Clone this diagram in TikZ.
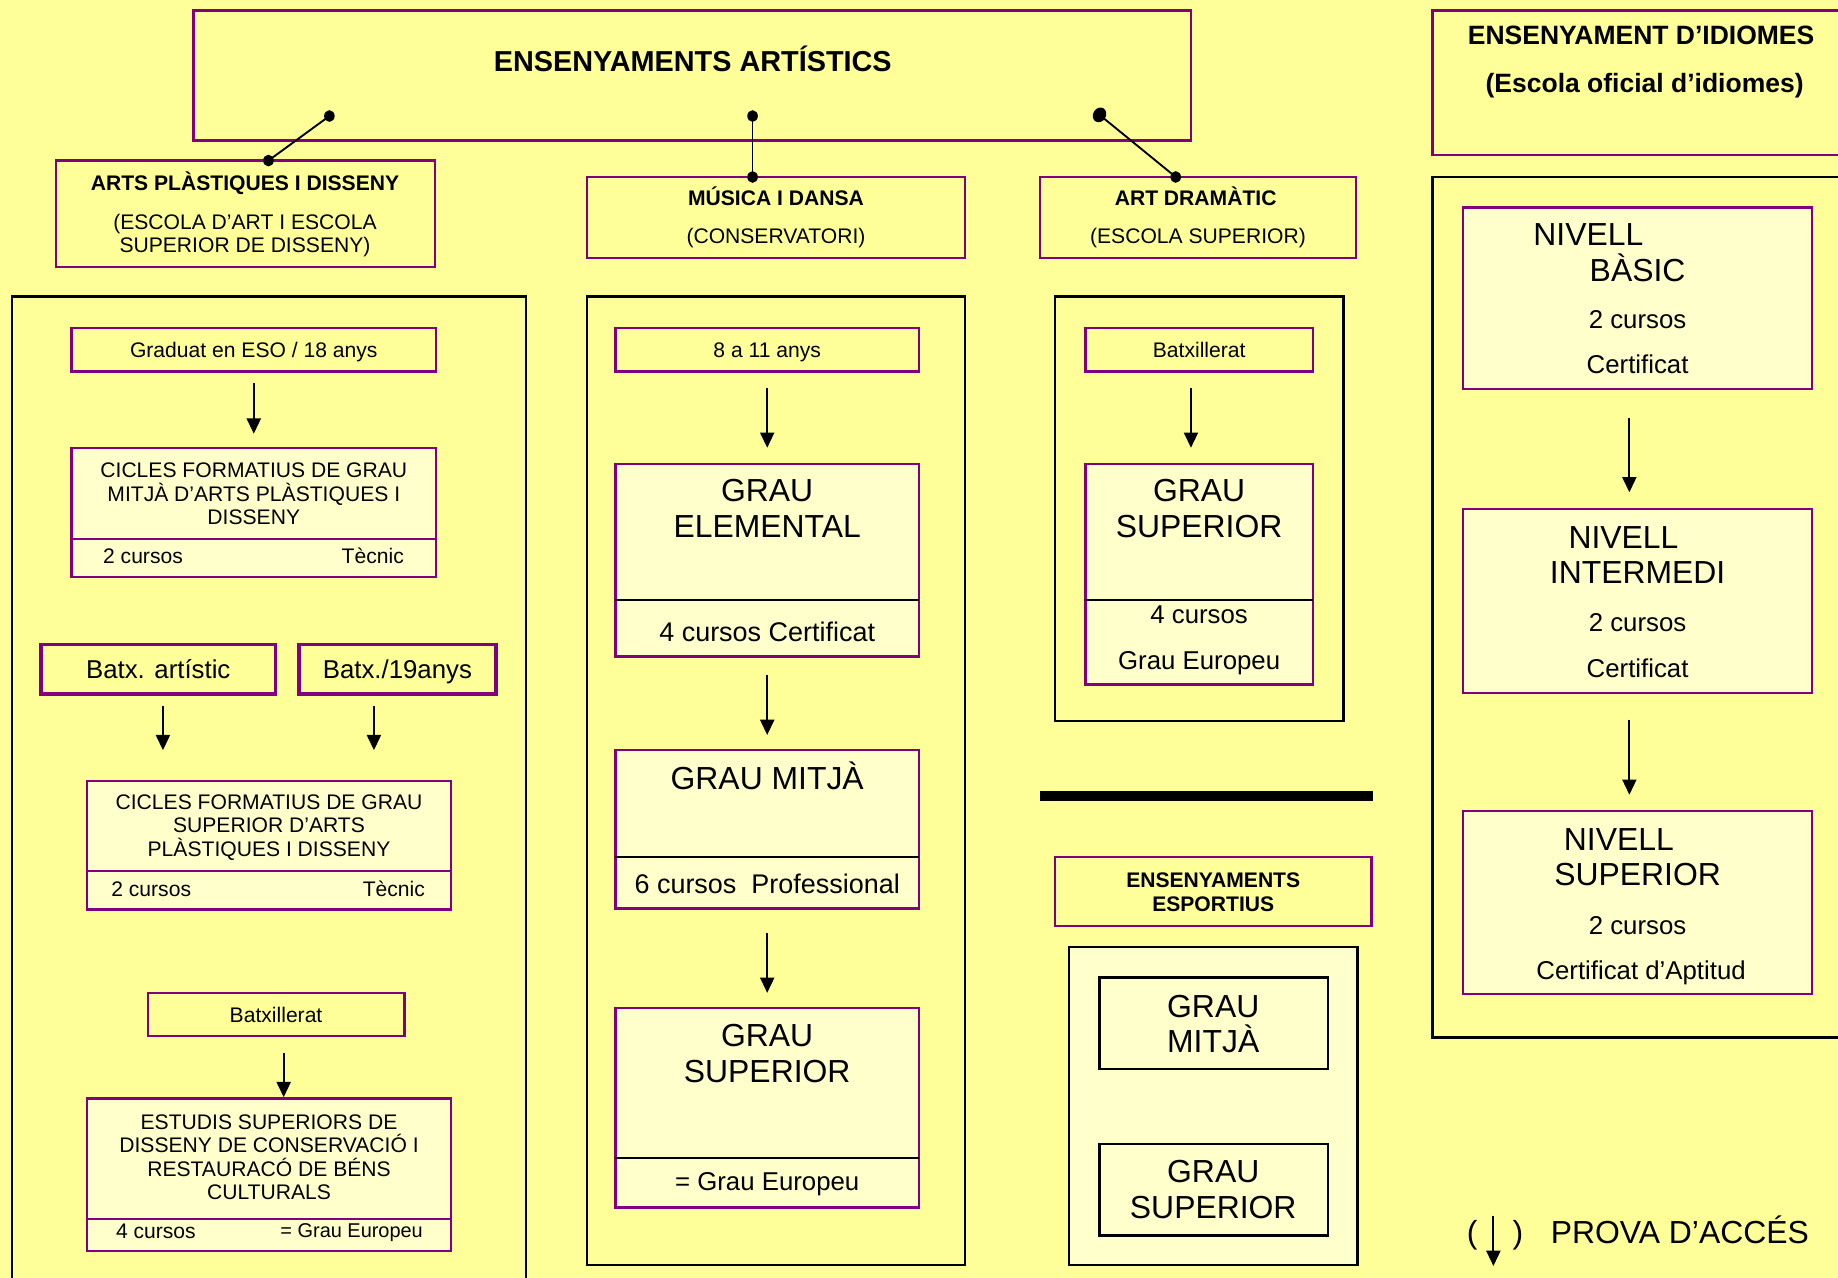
\documentclass[tikz,border=0pt]{standalone}
\usepackage{fontspec}
\setmainfont{Liberation Sans}
\usetikzlibrary{arrows.meta}
\definecolor{bg}{HTML}{FFFF99}
\definecolor{lt}{HTML}{FFFFCC}
\definecolor{pur}{HTML}{800080}
\newcommand\bx[7]{\node[#2, minimum width={(#5-#3)*0.5pt}, minimum height={(#6-#4)*0.5pt}] (#1) at ({(#3+#5)/2},{(#4+#6)/2}) {#7};}
% multi-line text nodes are placed by the centre of their last line
\newcommand\tx[5]{\node[#2] (#1) at (#3,#4) {#5};}
\begin{document}
\begin{tikzpicture}[x=0.5pt,y=-0.5pt,
  every node/.style={inner sep=0pt, outer sep=0pt},
  pb/.style={draw=pur, line width=1pt, fill=bg},
  lb/.style={draw=pur, line width=1pt, fill=lt},
  kb/.style={draw=black, line width=1pt},
  klb/.style={draw=black, line width=1pt, fill=lt},
  arr/.style={-{Triangle[width=6pt,length=6.5pt]}, line width=0.8pt},
  dot/.style={ellipse, fill=black, minimum width=4.5pt, minimum height=5pt},
  conn/.style={line width=0.8pt},
  div/.style={line width=1pt},
  t9/.style={font=\fontsize{9}{10}\selectfont, text height=6.45pt, text depth=0pt, align=center},
  t85/.style={font=\fontsize{8.5}{10}\selectfont, text height=6.1pt, text depth=0pt, align=center},
  t9b/.style={t9, font=\fontsize{9}{10}\selectfont\bfseries},
  t11/.style={font=\fontsize{11}{13}\selectfont, text height=7.9pt, text depth=0pt, align=center},
  t115/.style={font=\fontsize{11.5}{13}\selectfont, text height=8.2pt, text depth=0pt, align=center},
  t11b/.style={t11, font=\fontsize{11.3}{13}\selectfont\bfseries},
  t12b/.style={font=\fontsize{12.3}{14}\selectfont\bfseries, text height=8.8pt, text depth=0pt, align=center},
  tL/.style={font=\fontsize{13.6}{15.5}\selectfont, text height=9.75pt, text depth=0pt, align=center},
  tLs/.style={tL, font=\fontsize{13.6}{15}\selectfont}]
\usetikzlibrary{shapes.geometric}
\fill[bg] (0,0) rectangle (1568,1090);
\useasboundingbox (0,0) rectangle (1568,1090);
\clip (0,0) rectangle (1568,1090);

% ---- headers
\bx{top}{pb}{165}{9}{1016}{120}{}
\tx{toptxt}{t12b}{591}{52}{ENSENYAMENTS ARTÍSTICS}
\bx{arts}{pb}{48}{137}{371}{228}{}
\tx{artsA}{t9b}{209}{156}{ARTS PLÀSTIQUES I DISSENY}
\tx{artsB}{t9}{209}{209}{(ESCOLA D’ART I ESCOLA\\SUPERIOR DE DISSENY)}
\bx{mus}{pb}{501}{151}{823}{220}{}
\tx{musA}{t9b}{662}{169}{MÚSICA I DANSA}
\tx{musB}{t9}{662}{201}{(CONSERVATORI)}
\bx{dram}{pb}{887}{151}{1157}{220}{}
\tx{dramA}{t9b}{1020}{169}{ART DRAMÀTIC}
\tx{dramB}{t9}{1022}{201}{(ESCOLA SUPERIOR)}
\bx{idi}{pb}{1222}{9}{1600}{132}{}
\tx{idiA}{t11b}{1400}{30}{ENSENYAMENT D’IDIOMES}
\tx{idiB}{t11b}{1403}{71}{(Escola oficial d’idiomes)}

% ---- dots and links
\node[dot] (d1) at (281,99) {};
\node[dot] (d1b) at (229,137) {};
\node[dot] (d2) at (642,99) {};
\node[dot] (d2b) at (642,151) {};
\node[dot, minimum width=5.5pt, minimum height=6.5pt, rotate=-30] (d3) at (938,98) {};
\node[dot] (d3b) at (1003,151) {};
\draw[conn] (d1.center) -- (d1b.center);
\draw[conn] (d2.center) -- (d2b.center);
\draw[conn] (d3.center) -- (d3b.center);

% ---- containers
\bx{cL}{kb}{10}{253}{449}{1120}{}
\bx{cM}{kb}{501}{253}{823}{1079}{}
\bx{cD}{kb}{900}{253}{1146}{615}{}
\bx{cE}{klb}{912}{808}{1158}{1079}{}
\bx{cI}{kb}{1222}{151}{1600}{885}{}

% ---- left column
\bx{gr}{pb,t9}{61}{280}{372}{317}{Graduat en ESO / 18 anys}
\bx{cm}{lb}{61}{382}{372}{492}{}
\draw[pur,div] (61,460) -- (372,460);
\tx{cmT}{t9}{216.5}{441}{CICLES FORMATIUS DE GRAU\\MITJÀ D’ARTS PLÀSTIQUES I\\DISSENY}
\tx{cmA}{t9}{122}{474}{2 cursos}
\tx{cmB}{t9}{318}{474}{Tècnic}
\draw[arr, shorten <=5pt, shorten >=6pt] (gr.south) -- (cm.north);

\bx{ba}{pb,t11,line width=1.5pt}{35}{550}{235}{592}{Batx. artístic}
\bx{b19}{pb,t11,line width=1.5pt}{255}{550}{423}{592}{Batx./19anys}
\bx{cs}{lb}{74}{666}{385}{776}{}
\draw[pur,div] (74,743) -- (385,743);
\tx{csT}{t9}{229.5}{724}{CICLES FORMATIUS DE GRAU\\SUPERIOR D’ARTS\\PLÀSTIQUES I DISSENY}
\tx{csA}{t9}{129}{758}{2 cursos}
\tx{csB}{t9}{336}{758}{Tècnic}
\draw[arr, shorten <=5pt, shorten >=13pt] ([xshift=2pt]ba.south) -- ([xshift=2pt]ba.south |- cs.north);
\draw[arr, shorten <=5pt, shorten >=13pt] ([xshift=-10pt]b19.south) -- ([xshift=-10pt]b19.south |- cs.north);

\bx{bt}{pb,t9}{126}{847}{345}{884}{Batxillerat}
\bx{es}{lb}{74}{937}{385}{1067}{}
\draw[pur,div] (74,1040) -- (385,1040);
\tx{esT}{t9}{229.5}{1017}{ESTUDIS SUPERIORS DE\\DISSENY DE CONSERVACIÓ I\\RESTAURACÓ DE BÉNS\\CULTURALS}
\tx{esA}{t9}{133}{1050}{4 cursos}
\tx{esB}{t85}{300}{1050}{= Grau Europeu}
\draw[arr, shorten <=7pt, shorten >=0.5pt] ([xshift=3.25pt]bt.south) -- ([xshift=3.25pt]bt.south |- es.north);

% ---- music column
\bx{ma}{pb,t9}{525}{280}{784}{317}{8 a 11 anys}
\bx{ge}{lb}{525}{396}{784}{560}{}
\draw[div] (525,512) -- (784,512);
\tx{geT}{tL}{654.5}{449}{GRAU\\ELEMENTAL}
\tx{geB}{t115}{654.5}{539}{4 cursos Certificat}
\bx{gm}{lb}{525}{640}{784}{775}{}
\draw[div] (525,731) -- (784,731);
\tx{gmT}{tL}{654.5}{664}{GRAU MITJÀ}
\tx{gmB}{t115}{654.5}{754}{6 cursos\ \ Professional}
\bx{gs}{lb}{525}{860}{784}{1030}{}
\draw[div] (525,988) -- (784,988);
\tx{gsT}{tL}{654.5}{914}{GRAU\\SUPERIOR}
\tx{gsB}{t11}{654.5}{1008}{= Grau Europeu}
\draw[arr, shorten <=7pt, shorten >=7pt] (ma.south) -- (ge.north);
\draw[arr, shorten <=8pt, shorten >=6.5pt] (ge.south) -- (gm.north);
\draw[arr, shorten <=10.5pt, shorten >=6.5pt] (gm.south) -- (gs.north);

% ---- drama column
\bx{db}{pb,t9}{926}{280}{1120}{317}{Batxillerat}
\bx{ds}{lb}{926}{396}{1120}{584}{}
\draw[div] (926,512) -- (1120,512);
\tx{dsT}{tL}{1023}{449}{GRAU\\SUPERIOR}
\tx{dsA}{t11}{1023}{524}{4 cursos}
\tx{dsB}{t11}{1023}{563}{Grau Europeu}
\draw[arr, shorten <=7pt, shorten >=7pt] ([xshift=-3.5pt]db.south) -- ([xshift=-3.5pt]db.south |- ds.north);

% ---- separator bar
\draw[line width=4pt] (887,679) -- (1171,679);

% ---- sports
\bx{esp}{pb}{900}{731}{1170}{790}{}
\tx{espT}{t9b}{1035}{771}{ENSENYAMENTS\\ESPORTIUS}
\bx{em}{klb}{938}{834}{1133}{912}{}
\tx{emT}{tLs}{1035}{888}{GRAU\\MITJÀ}
\bx{esu}{klb}{938}{976}{1133}{1054}{}
\tx{esuT}{tL}{1035}{1030}{GRAU\\SUPERIOR}

% ---- languages
\bx{nb}{lb}{1248}{177}{1546}{332}{}
\tx{nbA}{tL}{1355}{200}{NIVELL}
\tx{nbB}{tL}{1397}{230}{BÀSIC}
\tx{nbC}{t11}{1397}{272}{2 cursos}
\tx{nbD}{t11}{1397}{311}{Certificat}
\bx{ni}{lb}{1248}{434}{1546}{591}{}
\tx{niA}{tL}{1385}{458}{NIVELL}
\tx{niB}{tL}{1397}{488}{INTERMEDI}
\tx{niC}{t11}{1397}{531}{2 cursos}
\tx{niD}{t11}{1397}{570}{Certificat}
\bx{ns}{lb}{1248}{692}{1546}{848}{}
\tx{nsA}{tL}{1381}{716}{NIVELL}
\tx{nsB}{tL}{1397}{746}{SUPERIOR}
\tx{nsC}{t11}{1397}{789}{2 cursos}
\tx{nsD}{t11}{1400}{828}{Certificat d’Aptitud}
\draw[arr, shorten <=12.5pt, shorten >=7pt] ([xshift=-3.5pt]nb.south) -- ([xshift=-3.5pt]nb.south |- ni.north);
\draw[arr, shorten <=11.5pt, shorten >=7pt] ([xshift=-3.5pt]ni.south) -- ([xshift=-3.5pt]ni.south |- ns.north);

% ---- legend
\tx{lp1}{tL}{1256}{1051}{(}
\tx{lp2}{tL}{1295}{1051}{)}
\coordinate (lgA) at (1274,1037);
\coordinate (lgB) at (1274,1080);
\draw[arr] (lgA) -- (lgB);
\node[tL, anchor=west] (prova) at (1323,1051) {PROVA D’ACCÉS};
\end{tikzpicture}
\end{document}
